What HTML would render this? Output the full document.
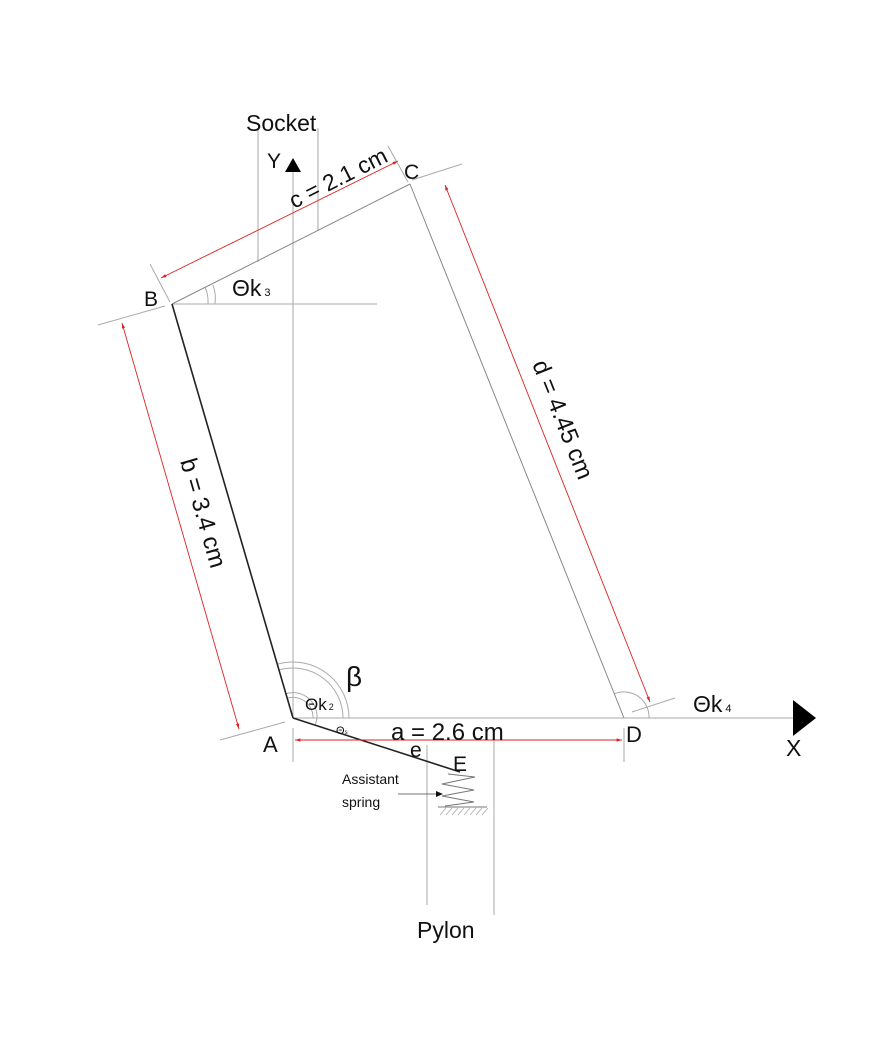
<!DOCTYPE html>
<html><head><meta charset="utf-8"><style>body{margin:0;background:#fff}svg{display:block}text{font-family:"Liberation Sans",sans-serif;fill:#111}</style></head><body>
<svg width="884" height="1050" viewBox="0 0 884 1050" xmlns="http://www.w3.org/2000/svg">
<defs>
<marker id="ar" viewBox="0 0 10 10" refX="10" refY="5" markerWidth="9" markerHeight="6" orient="auto-start-reverse"><path d="M0,2 L10,5 L0,8 z" fill="#d22"/></marker>
</defs>
<g stroke="#aaa" stroke-width="1" fill="none">
<line x1="293" y1="170" x2="293" y2="718"/>
<line x1="293" y1="718" x2="795" y2="718"/>
<line x1="172" y1="304" x2="377" y2="304"/>
<line x1="258" y1="128" x2="258" y2="262"/>
<line x1="318" y1="128" x2="318" y2="231"/>
<line x1="427" y1="745" x2="427" y2="905"/>
<line x1="494" y1="740" x2="494" y2="915"/>
<line x1="293" y1="728" x2="293" y2="762"/>
<line x1="624" y1="728" x2="624" y2="762"/>
<line x1="150" y1="264" x2="170" y2="302"/>
<line x1="388" y1="146" x2="408" y2="182"/>
<line x1="98" y1="325" x2="165" y2="306"/>
<line x1="220" y1="740" x2="285" y2="722"/>
<line x1="412" y1="180" x2="462" y2="164"/>
<line x1="632" y1="712" x2="675" y2="698"/>
<path d="M205,287 A36,36 0 0 1 208,304"/>
<path d="M213,285 A40,40 0 0 1 215,304"/>
<path d="M279,670 A50,50 0 0 1 343,718"/>
<path d="M278,664 A56,56 0 0 1 349,718"/>
<path d="M288,698 A20,20 0 0 1 313,718"/>
<path d="M285,694 A24,24 0 0 1 317,718"/>
<path d="M614,694 A25,25 0 0 1 649,718"/>
<path d="M315,725 A24,24 0 0 0 317,718"/>
</g>
<g stroke="#888" stroke-width="1" fill="none">
<line x1="172" y1="304" x2="410" y2="184"/>
<line x1="410" y1="184" x2="624" y2="718"/>
</g>
<g stroke="#222" stroke-width="1.6" fill="none">
<line x1="172" y1="304" x2="293" y2="718"/>
<line x1="293" y1="718" x2="460" y2="772"/>
</g>
<path d="M448,774 L475,777 L442,784 L474,790 L442,796 L474,802 L445,806" stroke="#777" fill="none" stroke-width="1"/>
<line x1="438" y1="807" x2="487" y2="807" stroke="#777"/>
<g stroke="#aaa" stroke-width="0.8">
<line x1="440" y1="815" x2="446" y2="808"/><line x1="446" y1="815" x2="452" y2="808"/><line x1="452" y1="815" x2="458" y2="808"/><line x1="458" y1="815" x2="464" y2="808"/><line x1="464" y1="815" x2="470" y2="808"/><line x1="470" y1="815" x2="476" y2="808"/><line x1="476" y1="815" x2="482" y2="808"/><line x1="482" y1="815" x2="488" y2="808"/>
</g>
<line x1="398" y1="794" x2="442" y2="794" stroke="#444" stroke-width="0.8"/>
<path d="M436,791 L443,794 L436,797z" fill="#111"/>
<g stroke="#d22" stroke-width="0.9" fill="none" marker-start="url(#ar)" marker-end="url(#ar)">
<line x1="161" y1="278" x2="398" y2="161"/>
<line x1="122" y1="323" x2="239" y2="729"/>
<line x1="445" y1="185" x2="650" y2="702"/>
<line x1="295" y1="740" x2="622" y2="740"/>
</g>
<path d="M285,172 L293,158 L301,172z" fill="#000"/>
<path d="M793,700 L816,718 L793,736z" fill="#000"/>
<text x="246" y="131" font-size="23">Socket</text>
<text x="267" y="168" font-size="21">Y</text>
<text x="404" y="179" font-size="21">C</text>
<text x="144" y="306" font-size="21">B</text>
<text x="232" y="296" font-size="23">Θk<tspan font-size="11" dx="3">3</tspan></text>
<text transform="translate(294,209) rotate(-26.8)" font-size="23">c = 2.1 cm</text>
<text transform="translate(180,461) rotate(74)" font-size="24">b = 3.4 cm</text>
<text transform="translate(532,364) rotate(68.2)" font-size="24">d = 4.45 cm</text>
<text x="346" y="686" font-size="28">β</text>
<text x="305" y="710" font-size="17">Θk<tspan font-size="9" dx="2">2</tspan></text>
<text x="336" y="734" font-size="11">Θ<tspan font-size="6">s</tspan></text>
<text x="263" y="752" font-size="22">A</text>
<text x="391" y="740" font-size="24">a = 2.6 cm</text>
<text x="410" y="757" font-size="21">e</text>
<text x="453" y="771" font-size="21">E</text>
<text x="342" y="784" font-size="14">Assistant</text>
<text x="342" y="807" font-size="14">spring</text>
<text x="626" y="742" font-size="22">D</text>
<text x="693" y="712" font-size="23">Θk<tspan font-size="11" dx="3">4</tspan></text>
<text x="786" y="756" font-size="23">X</text>
<text x="417" y="938" font-size="23">Pylon</text>
</svg>
</body></html>
